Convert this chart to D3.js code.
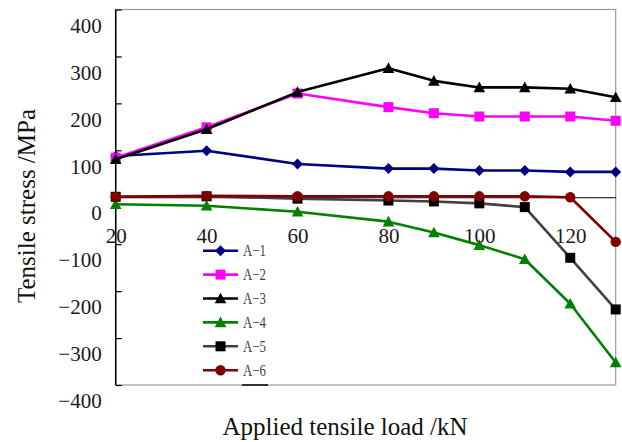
<!DOCTYPE html>
<html>
<head>
<meta charset="utf-8">
<script src="https://cdn.jsdelivr.net/npm/d3@7"></script>
<style>
  html, body { margin: 0; padding: 0; background: #fff; }
  svg { display: block; }
  svg text { font-family: "Liberation Serif", "Times New Roman", "DejaVu Serif"; }
</style>
</head>
<body>
<svg id="chart" width="622" height="442"></svg>
<script>
// ---- data ----
const loads = [20, 40, 60, 80, 90, 100, 110, 120, 130];
const seriesNames = ["A\u22121", "A\u22122", "A\u22123", "A\u22124", "A\u22125", "A\u22126"];
const a1 = [88, 99, 71, 61, 61, 57, 57, 54, 54];
const a2 = [84, 149, 221, 192, 179, 172, 172, 172, 163];
const a3 = [81, 145, 224, 275, 248, 234, 234, 231, 213];
const a4 = [-15, -18, -31, -52, -75, -102, -132, -227, -352];
const a5 = [1, 2, -3, -7, -9, -13, -21, -129, -239];
const a6 = [1, 3, 2, 2, 2, 2, 2, 0, -95];
const yTicks = [-400, -300, -200, -100, 0, 100, 200, 300, 400];
const xTicks = [20, 40, 60, 80, 100, 120];

const seriesValues = [a1, a2, a3, a4, a5, a6];
const styles = [
  { line: "#000080", fill: "#000080", shape: "diamond" },
  { line: "#ff00ff", fill: "#ff00ff", shape: "square" },
  { line: "#000000", fill: "#000000", shape: "triangle" },
  { line: "#008000", fill: "#008000", shape: "triangle" },
  { line: "#404040", fill: "#000000", shape: "square" },
  { line: "#800000", fill: "#800000", shape: "circle" }
];

const svg = d3.select("#chart");
const L = 115.7, R = 615.7, T = 9.5, B = 385;
const x = d3.scaleLinear().domain([20, 130]).range([L, R]);
const y = d3.scaleLinear().domain([-400, 400]).range([B, T]);

// plot border (gray)
svg.append("rect").attr("x", L).attr("y", T).attr("width", R - L).attr("height", B - T)
  .attr("fill", "none").attr("stroke", "#9a9a9a").attr("stroke-width", 1.2);

// markers
function markerPath(shape) {
  if (shape === "diamond") return "M0,-5.5L5.5,0L0,5.5L-5.5,0Z";
  if (shape === "square") return "M-5,-5H5V5H-5Z";
  if (shape === "triangle") return "M0,-5.8L5.8,4.8L-5.8,4.8Z";
  return null;
}
function drawMarker(g, shape, fill, cx, cy) {
  if (shape === "circle") {
    g.append("circle").attr("cx", cx).attr("cy", cy).attr("r", 5.2).attr("fill", fill);
  } else {
    g.append("path").attr("d", markerPath(shape))
      .attr("transform", `translate(${cx},${cy})`).attr("fill", fill);
  }
}

// y axis (ticks inward, labels offset as in the reference)
const yAxis = d3.axisLeft(y).tickValues(yTicks).tickSizeInner(-6).tickSizeOuter(0).tickPadding(14)
  .tickFormat(d => d < 0 ? "\u2212" + Math.abs(d) : String(d));
const gy = svg.append("g").attr("transform", `translate(${L},0)`).call(yAxis);
gy.attr("font-family", null);
gy.select(".domain").remove();
gy.selectAll(".tick line").attr("stroke", "#000").attr("stroke-width", 1.2);
gy.selectAll(".tick text").attr("font-size", 21).attr("fill", "#1a1a1a")
  .attr("transform", "translate(0,16)");

// x axis at zero
const xAxis = d3.axisBottom(x).tickValues(xTicks).tickSizeInner(-5).tickSizeOuter(0).tickPadding(31);
const gx = svg.append("g").attr("transform", `translate(0,${y(0)})`).call(xAxis);
gx.attr("font-family", null);
gx.select(".domain").attr("stroke", "#000").attr("stroke-width", 1.2);
gx.selectAll(".tick line").attr("stroke", "#000").attr("stroke-width", 1.2);
gx.selectAll(".tick text").attr("font-size", 21).attr("fill", "#1a1a1a");

// left axis line
svg.append("line").attr("x1", L).attr("x2", L).attr("y1", T).attr("y2", B)
  .attr("stroke", "#000").attr("stroke-width", 1.5);

// series
const lineGen = d3.line().x(d => x(d[0])).y(d => y(d[1]));
seriesValues.forEach((vals, i) => {
  const st = styles[i];
  const pts = loads.map((l, j) => [l, vals[j]]);
  const g = svg.append("g");
  g.append("path").attr("d", lineGen(pts)).attr("fill", "none")
    .attr("stroke", st.line).attr("stroke-width", 2.6).attr("stroke-linejoin", "round");
  pts.forEach(p => drawMarker(g, st.shape, st.fill, x(p[0]), y(p[1])));
});

// legend
const legY0 = 250.7, legStep = 23.9;
seriesNames.forEach((name, i) => {
  const st = styles[i];
  const ly = legY0 + i * legStep;
  const g = svg.append("g");
  g.append("line").attr("x1", 203).attr("x2", 238).attr("y1", ly).attr("y2", ly)
    .attr("stroke", st.line).attr("stroke-width", 2.6);
  drawMarker(g, st.shape, st.fill, 220.5, ly);
  g.append("text").attr("x", 243).attr("y", ly).attr("dy", "0.36em")
    .attr("font-size", 16).attr("fill", "#444")
    .attr("textLength", 23).attr("lengthAdjust", "spacingAndGlyphs").text(name);
});
// small dark segment on bottom border under legend
svg.append("line").attr("x1", 242).attr("x2", 268).attr("y1", B).attr("y2", B)
  .attr("stroke", "#000").attr("stroke-width", 1.5);

// axis titles
svg.append("text").attr("transform", "translate(35,206) rotate(-90)")
  .attr("text-anchor", "middle").attr("font-size", 25).attr("fill", "#111")
  .text("Tensile stress /MPa");
svg.append("text").attr("x", 345).attr("y", 435)
  .attr("text-anchor", "middle").attr("font-size", 25).attr("fill", "#111")
  .text("Applied tensile load /kN");
</script>
</body>
</html>
